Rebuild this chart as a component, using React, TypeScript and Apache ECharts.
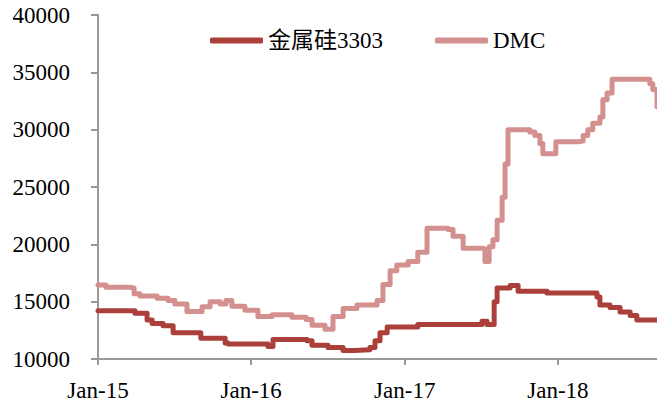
import React, { useEffect, useRef } from "react";
import * as echarts from "echarts";

const siliconName = "金属硅3303";
const dmcName = "DMC";

const siliconDates = [
  "2015-01-01", "2015-03-30", "2015-04-28", "2015-05-10", "2015-06-05", "2015-06-29",
  "2015-09-03", "2015-10-31", "2015-11-07", "2016-02-10", "2016-02-22", "2016-05-13",
  "2016-05-25", "2016-07-02", "2016-08-07", "2016-09-04", "2016-10-10", "2016-10-22",
  "2016-11-03", "2016-11-20", "2017-02-01", "2017-07-04", "2017-07-16", "2017-08-02",
  "2017-08-09", "2017-09-09", "2017-09-28", "2017-12-06", "2018-04-04", "2018-04-11",
  "2018-05-05", "2018-05-29", "2018-06-22", "2018-07-08", "2018-08-25",
];
const siliconValues = [
  14200, 14000, 13400, 13100, 12900, 12300,
  11800, 11400, 11300, 11100, 11700, 11600,
  11200, 11000, 10750, 10800, 11000, 11600,
  12300, 12800, 13000, 13300, 13000, 15000,
  16200, 16400, 15900, 15750, 15400, 14700,
  14500, 14100, 13800, 13400, 13400,
];

const dmcDates = [
  "2015-01-01", "2015-01-20", "2015-03-18", "2015-03-28", "2015-04-11", "2015-05-22",
  "2015-06-17", "2015-07-03", "2015-08-01", "2015-09-06", "2015-09-25", "2015-10-19",
  "2015-11-02", "2015-11-16", "2015-12-17", "2016-01-17", "2016-02-20", "2016-04-07",
  "2016-05-11", "2016-05-25", "2016-06-25", "2016-07-14", "2016-08-07", "2016-09-09",
  "2016-10-27", "2016-11-10", "2016-11-27", "2016-12-13", "2017-01-09", "2017-02-01",
  "2017-02-23", "2017-04-14", "2017-04-26", "2017-05-20", "2017-07-06", "2017-07-11",
  "2017-07-21", "2017-07-30", "2017-08-09", "2017-08-21", "2017-08-28", "2017-09-04",
  "2017-10-26", "2017-11-07", "2017-11-19", "2017-11-26", "2017-12-27", "2018-02-18",
  "2018-03-02", "2018-03-13", "2018-03-25", "2018-04-11", "2018-04-18", "2018-04-28",
  "2018-05-10", "2018-07-27", "2018-08-08", "2018-08-15", "2018-08-25",
];
const dmcValues = [
  16450, 16250, 16200, 15700, 15500, 15300,
  15100, 14800, 14150, 14550, 15000, 14800,
  15100, 14600, 14250, 13700, 13850, 13650,
  13450, 12950, 12600, 13700, 14400, 14700,
  15100, 16500, 17700, 18200, 18500, 19300,
  21400, 21300, 20700, 19650, 19600, 18500,
  19800, 20400, 22100, 24100, 27000, 30000,
  29800, 29500, 28800, 27900, 28950, 29000,
  29500, 30000, 30550, 31100, 32600, 33200,
  34400, 34400, 34000, 33500, 32000,
];

const yMin = 10000;
const yMax = 40000;
const yStep = 5000;
const xStart = "2015-01-01";
const xEnd = "2018-08-25";

const darkRed = "#AB403B";
const pink = "#D4908E";
const font = "Liberation Serif, Times New Roman, Noto Sans CJK SC, serif";
const fs = 23;

export default function App() {
  const ref = useRef<HTMLDivElement>(null);

  useEffect(() => {
    if (!ref.current) return;
    const chart = echarts.init(ref.current, undefined, { renderer: "svg" });
    const yearMs = 365 * 24 * 3600 * 1000;
    chart.setOption({
      animation: false,
      backgroundColor: "#ffffff",
      textStyle: { fontFamily: font },
      legend: {
        left: 205,
        top: 24,
        itemWidth: 53,
        itemHeight: 6,
        itemGap: 52,
        icon: "roundRect",
        textStyle: { fontSize: fs, color: "#000", fontFamily: font },
        data: [siliconName, dmcName],
      },
      grid: { left: 98, right: 0, top: 15, bottom: 46, containLabel: false },
      xAxis: {
        type: "time",
        min: xStart,
        max: xEnd,
        minInterval: yearMs,
        maxInterval: yearMs + 24 * 3600 * 1000,
        axisLine: { show: true, lineStyle: { color: "#999", width: 2 } },
        axisTick: { show: true, length: 6, lineStyle: { color: "#999", width: 2 } },
        splitLine: { show: false },
        axisLabel: {
          fontSize: fs,
          color: "#000",
          fontFamily: font,
          margin: 20,
          hideOverlap: false,
          formatter: (v: number) => {
            const d = new Date(v);
            return "Jan-" + String(d.getFullYear() % 100).padStart(2, "0");
          },
        },
      },
      yAxis: {
        type: "value",
        min: yMin,
        max: yMax,
        interval: yStep,
        axisLine: { show: true, lineStyle: { color: "#999", width: 2 } },
        axisTick: { show: true, length: 7, lineStyle: { color: "#999", width: 2 } },
        splitLine: { show: false },
        axisLabel: {
          fontSize: fs,
          color: "#000",
          fontFamily: font,
          margin: 28,
          formatter: (v: number) => String(v),
        },
      },
      series: [
        {
          name: siliconName,
          type: "line",
          step: "end",
          showSymbol: false,
          color: darkRed,
          lineStyle: { width: 5, color: darkRed, cap: "round", join: "round" },
          data: siliconDates.map((d, i) => [d, siliconValues[i]]),
        },
        {
          name: dmcName,
          type: "line",
          step: "end",
          showSymbol: false,
          color: pink,
          lineStyle: { width: 5, color: pink, cap: "round", join: "round" },
          data: dmcDates.map((d, i) => [d, dmcValues[i]]),
        },
      ],
    });
    return () => chart.dispose();
  }, []);

  return (
    <div
      ref={ref}
      style={{ position: "absolute", left: 0, top: 0, width: 657, height: 405 }}
    />
  );
}
